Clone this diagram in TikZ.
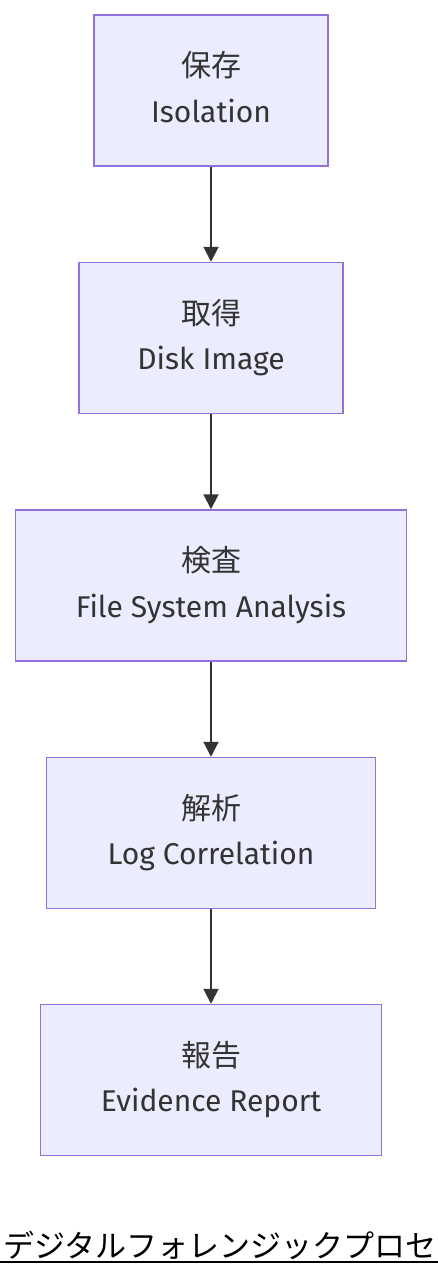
\documentclass[tikz,border=0pt]{standalone}
\usepackage{fontspec}
\setmainfont{Fira Sans}
\newfontfamily\cjk{Noto Sans CJK JP}
\usetikzlibrary{arrows.meta}
\definecolor{boxfill}{HTML}{ECECFF}
\definecolor{boxline}{HTML}{9370DB}
\definecolor{txt}{HTML}{333333}
\tikzset{
  stepbox/.style={draw=boxline, fill=boxfill, line width=1.5pt, minimum height=151pt, inner sep=0pt},
  flow/.style={draw=txt, line width=2pt, -{Triangle[width=15pt,length=15pt]}},
  lab/.style={text=txt, font=\fontsize{30}{34}\selectfont, inner sep=0pt, anchor=center}
}
\begin{document}
\begin{tikzpicture}[x=1pt,y=-1pt]
\useasboundingbox (0,0) rectangle (438,1276);
\node[stepbox, minimum width=234pt] (a) at (211,90.5) {};
\node[stepbox, minimum width=264pt] (b) at (211,338) {};
\node[stepbox, minimum width=391pt] (c) at (211,585.5) {};
\node[stepbox, minimum width=329pt] (d) at (211,833) {};
\node[stepbox, minimum width=341pt] (e) at (211,1080) {};
\foreach \n/\j/\e in {a/保存/Isolation, b/取得/Disk Image, c/検査/File System Analysis, d/解析/Log Correlation, e/報告/Evidence Report}{
  \node[lab] (\n j) at ([yshift=25pt]\n.center) {\cjk\j};
  \node[lab] (\n e) at ([yshift=-25pt]\n.center) {\strut\e};
}
\draw[flow] (a.south) -- (b.north);
\draw[flow] (b.south) -- (c.north);
\draw[flow] (c.south) -- (d.north);
\draw[flow] (d.south) -- (e.north);
\begin{scope}
\clip (0,0) rectangle (438,1276);
\node[anchor=base west, inner sep=0pt, font=\cjk\fontsize{31}{34}\selectfont, text=black] (title) at (3,1257) {デジタルフォレンジックプロセス};
\draw[black, line width=2.5pt] (0,1262) -- (438,1262);
\end{scope}
\end{tikzpicture}
\end{document}
